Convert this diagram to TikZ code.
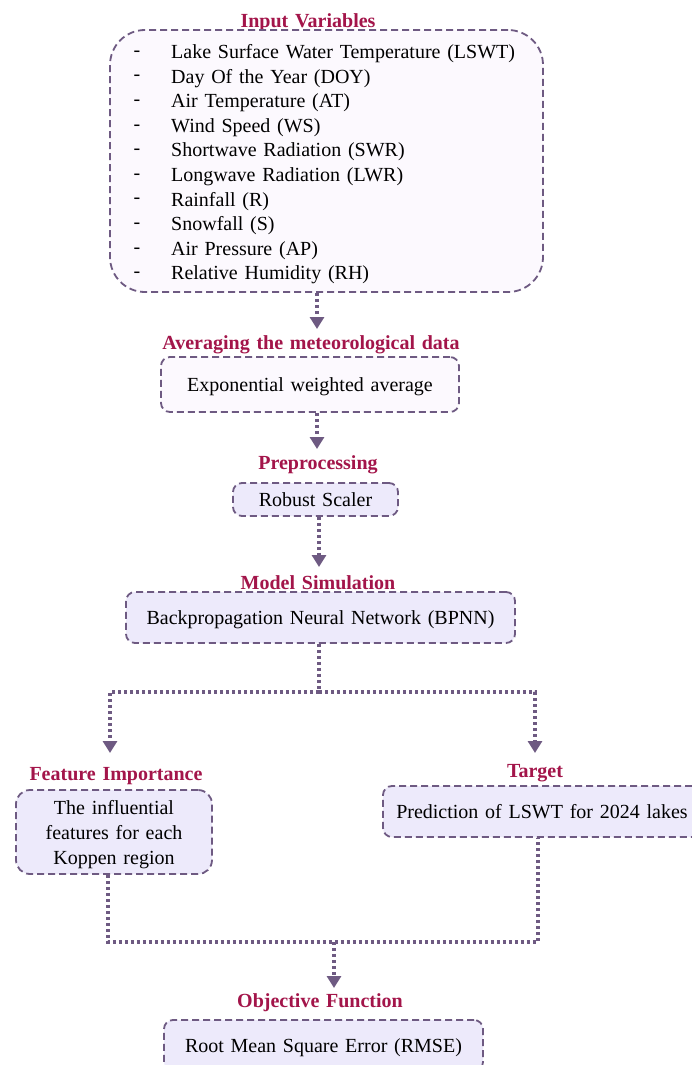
\documentclass[tikz,border=0pt]{standalone}
\usepackage{fontspec}
\setmainfont{Liberation Serif}[WordSpace=1.35]
\usetikzlibrary{arrows.meta}
\definecolor{headred}{HTML}{A3154A}
\definecolor{frame}{HTML}{6E5A82}
\definecolor{paleA}{HTML}{FCF9FE}
\definecolor{paleB}{HTML}{EDEAFB}
\begin{document}
\begin{tikzpicture}[x=1pt,y=-1pt,
  box/.style={draw=frame, line width=1.8pt, dash pattern=on 7pt off 4pt,
    rounded corners=9pt, inner sep=0pt, align=center, text depth=0pt,
    font=\fontsize{20}{25}\selectfont},
  head/.style={text=headred, font=\bfseries\fontsize{20}{22}\selectfont, inner sep=0pt, yshift=-2.5pt},
  body/.style={font=\fontsize{20}{22}\selectfont, inner sep=0pt, yshift=-2.5pt},
  link/.style={draw=frame, line width=4pt, dash pattern=on 3pt off 3pt},
  tip/.style={-{Triangle[width=14pt,length=12pt]}}]
\useasboundingbox (0,0) rectangle (691,1065);
\fill[white] (0,0) rectangle (691,1065);

% input variables
\node[head] (h1) at (308,20) {Input Variables};
\node[box, fill=paleA, minimum width=433pt, minimum height=262pt, rounded corners=35pt] (inbox) at (326.5,161) {};
\foreach \t [count=\i] in {Lake Surface Water Temperature (LSWT), Day Of the Year (DOY),
    Air Temperature (AT), Wind Speed (WS), Shortwave Radiation (SWR),
    Longwave Radiation (LWR), Rainfall (R), Snowfall (S), Air Pressure (AP),
    Relative Humidity (RH)} {
  \node[body] (dash\i) at (137,{26.5+24.6*\i}) {-};
  \node[body, anchor=west] (item\i) at (171,{26.5+24.6*\i}) {\t};
}

% averaging
\node[head] (h2) at (311,342) {Averaging the meteorological data};
\node[box, fill=paleA, minimum width=298pt, minimum height=55pt] (avg) at (310,384.5) {Exponential weighted average};

% preprocessing
\node[head] (h3) at (318,462) {Preprocessing};
\node[box, fill=paleB, minimum width=165pt, minimum height=33pt] (scal) at (315.5,499.5) {Robust Scaler};

% model
\node[head] (h4) at (318,580) {Model Simulation};
\node[box, fill=paleB, minimum width=389pt, minimum height=51pt] (bpnn) at (320.5,617.5) {Backpropagation Neural Network (BPNN)};

% outputs
\node[head] (h5) at (116,774) {Feature Importance};
\node[box, fill=paleB, minimum width=196pt, minimum height=84pt, rounded corners=14pt] (feat) at (114,832) {The influential\\features for each\\Koppen region};

\node[head] (h6) at (535,771) {Target};
\node[box, fill=paleB, minimum width=318pt, minimum height=51pt] (targ) at (542,811.5) {Prediction of LSWT for 2024 lakes};

% objective
\node[head] (h7) at (320,1000) {Objective Function};
\node[box, fill=paleB, minimum width=319pt, minimum height=51pt] (rmse) at (323.5,1045.5) {Root Mean Square Error (RMSE)};

% connector points
\coordinate (c1) at (317,329);
\coordinate (c2) at (317,449);
\coordinate (c3) at (319,567);
\coordinate (split) at (319,692);
\coordinate (sl) at (110,692);
\coordinate (sr) at (535,692);
\coordinate (fend) at (110,753);
\coordinate (tend) at (535,753);
\coordinate (ml) at (108,942);
\coordinate (mr) at (538,942);
\coordinate (mc) at (334,942);
\coordinate (oend) at (334,988);

\draw[link,tip] (inbox.south -| c1) -- (c1);
\draw[link,tip] (avg.south -| c2) -- (c2);
\draw[link,tip] (scal.south -| c3) -- (c3);
\draw[link] (bpnn.south -| split) -- (split);
\draw[link,tip] (split) -- (sl) -- (fend);
\draw[link,tip] (split) -- (sr) -- (tend);
\draw[link] (feat.south -| ml) -- (ml) -- (mr) -- (targ.south -| mr);
\draw[link,tip] (mc) -- (oend);
\end{tikzpicture}
\end{document}
